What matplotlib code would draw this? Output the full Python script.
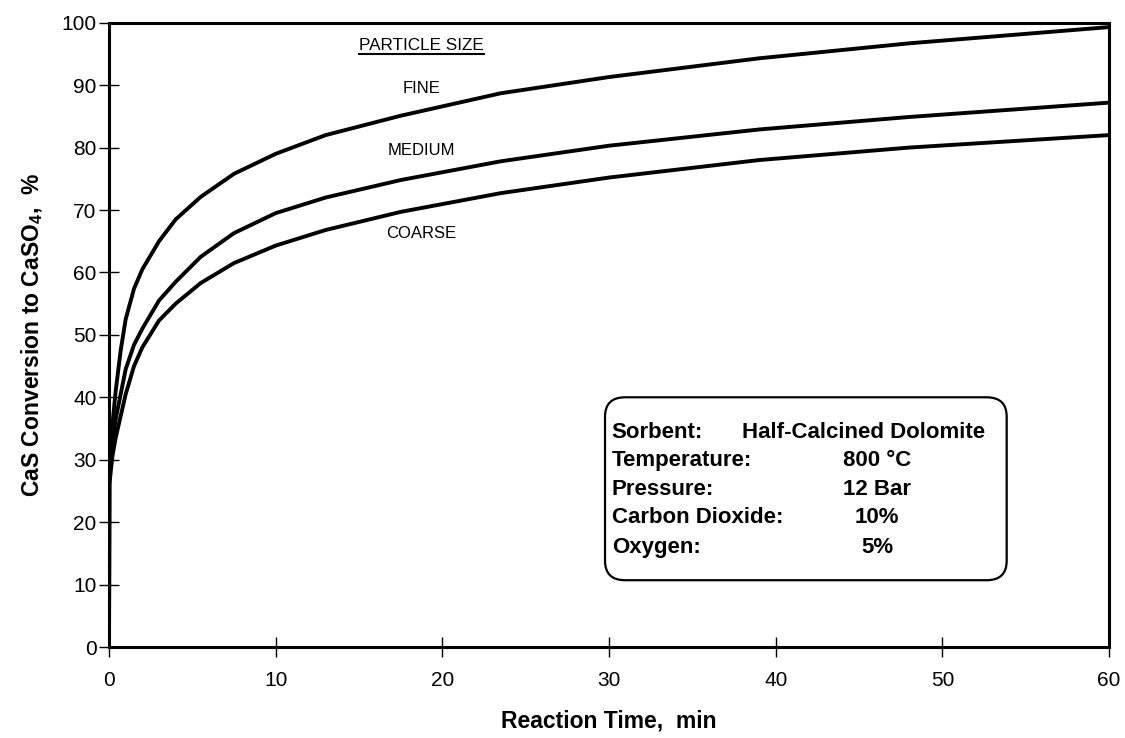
import matplotlib
matplotlib.use('Agg')
import matplotlib.pyplot as plt
from matplotlib.patches import FancyBboxPatch
from matplotlib.lines import Line2D

# Datos (conversion de CaS a CaSO4 vs tiempo)
tiempo = [0, 0.02, 0.1, 0.2, 0.4, 0.7, 1, 1.5, 2, 3, 4, 5.5, 7.5, 10, 13, 17.5, 23.5, 30, 39, 48, 60]
fino = [0, 28, 31, 35.5, 41, 47.5, 52.5, 57.4, 60.5, 65, 68.5, 72.1, 75.8, 79, 82, 85.1, 88.7, 91.3, 94.3, 96.7, 99.3]
medio = [0, 27, 29.5, 32.5, 36.5, 40.5, 44.5, 48.4, 51, 55.5, 58.5, 62.5, 66.3, 69.5, 72, 74.8, 77.8, 80.3, 82.9, 84.9, 87.2]
grueso = [0, 26, 28, 30.5, 33.5, 37, 40.5, 45, 48, 52.3, 55, 58.3, 61.5, 64.3, 66.8, 69.7, 72.7, 75.2, 78.0, 80.0, 82.0]

etiquetas_curvas = ['FINE', 'MEDIUM', 'COARSE']
condiciones = ['Sorbent:', 'Temperature:', 'Pressure:', 'Carbon Dioxide:', 'Oxygen:']
valores = ['Half-Calcined Dolomite', '800 °C', '12 Bar', '10%', '5%']

plt.rcParams['font.family'] = ['Liberation Sans', 'DejaVu Sans']
plt.rcParams['mathtext.fontset'] = 'custom'
plt.rcParams['mathtext.rm'] = 'Liberation Sans'
plt.rcParams['mathtext.bf'] = 'Liberation Sans:bold'

fig = plt.figure(figsize=(11.25, 7.38), dpi=100)
ax = fig.add_axes([0.0969, 0.1233, 0.8889, 0.8459])

for serie in [fino, medio, grueso]:
    ax.plot(tiempo, serie, color='black', lw=2.8, solid_joinstyle='round', solid_capstyle='round')

ax.set_xlim(0, 60)
ax.set_ylim(0, 100)
ax.set_xticks(range(0, 61, 10))
ax.set_yticks(range(0, 101, 10))
for s in ax.spines.values():
    s.set_linewidth(2.2)
ax.tick_params(axis='x', direction='inout', length=14, width=1, labelsize=15, pad=10)
ax.tick_params(axis='y', direction='inout', length=14, width=1, labelsize=15, pad=2)

ax.set_xlabel('Reaction Time,  min', fontsize=16.5, fontweight='bold', labelpad=14)
ax.set_ylabel(r'CaS Conversion to CaSO$_\mathbf{4}$,  %', fontsize=16.5, fontweight='bold', labelpad=12)

# Etiquetas de las curvas
titulo = ax.text(18.76, 96.4, 'PARTICLE SIZE', fontsize=12.3, ha='center', va='center')
ax.text(18.76, 89.5, etiquetas_curvas[0], fontsize=12, ha='center', va='center')
ax.text(18.76, 79.6, etiquetas_curvas[1], fontsize=12, ha='center', va='center')
ax.text(18.76, 66.3, etiquetas_curvas[2], fontsize=12, ha='center', va='center')

# Cuadro de condiciones
caja = FancyBboxPatch((29.76, 10.7), 24.1, 29.3, boxstyle='round,pad=0,rounding_size=1.2',
                      mutation_aspect=2.6, fc='white', ec='black', lw=1.6)
ax.add_patch(caja)
y_fila = [33.43, 29.0, 24.35, 19.8, 15.0]
for i in range(len(condiciones)):
    ax.text(30.16, y_fila[i], condiciones[i], fontsize=16, fontweight='bold', va='baseline')
    if i == 0:
        ax.text(38.0, y_fila[i], valores[i], fontsize=16, fontweight='bold', va='baseline')
    else:
        ax.text(46.1, y_fila[i], valores[i], fontsize=16, fontweight='bold', va='baseline', ha='center')

# Subrayado de PARTICLE SIZE
fig.canvas.draw()
bb = titulo.get_window_extent()
fig.add_artist(Line2D([bb.x0, bb.x1], [bb.y0 - 1, bb.y0 - 1], transform=None, color='black', lw=1.5))

plt.savefig('out.png', dpi=100)
